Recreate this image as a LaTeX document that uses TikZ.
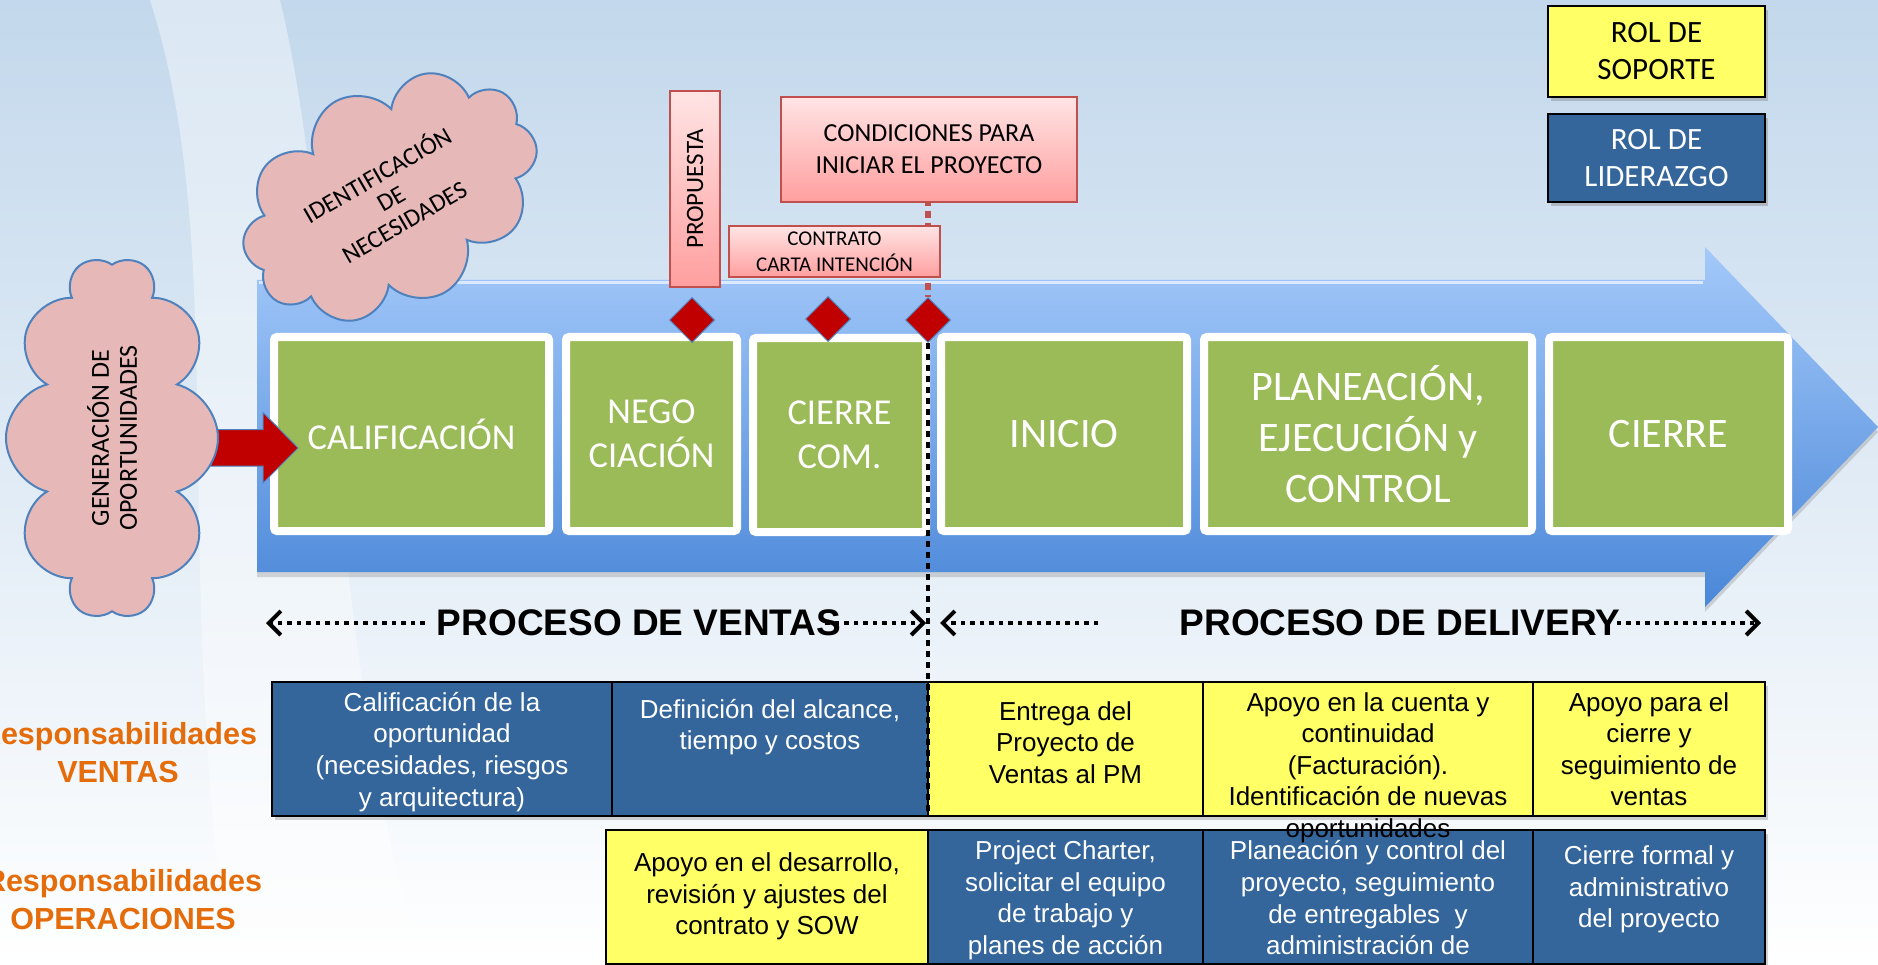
\documentclass[tikz,border=0pt]{standalone}
\usepackage{fontspec}
\setmainfont{Carlito}
\newfontfamily\arial{Liberation Sans}
\usetikzlibrary{shapes.symbols,shapes.geometric,arrows.meta,positioning,shadows}

\definecolor{cielo}{HTML}{C3D8EC}
\definecolor{flechaarriba}{HTML}{A4C9FA}
\definecolor{flechaabajo}{HTML}{4A87D8}
\definecolor{verde}{HTML}{9BBB59}
\definecolor{azulcelda}{HTML}{34659B}
\definecolor{amarillo}{HTML}{FFFF66}
\definecolor{rojo}{HTML}{C00000}
\definecolor{rosa}{HTML}{E6B9B8}
\definecolor{rosaclaro}{HTML}{FFE4E4}
\definecolor{rosaoscuro}{HTML}{FF9F9F}
\definecolor{borde}{HTML}{4F81BD}
\definecolor{rojoborde}{HTML}{C0504D}
\definecolor{naranja}{HTML}{E46C0A}

\begin{document}
\begin{tikzpicture}[x=1pt, y=-1pt,
    etapa/.style={draw=white, line width=8pt, fill=verde, rounded corners=3pt, minimum height=194pt, inner sep=0pt, text=white, align=center, font=\fontsize{36.5pt}{44pt}\selectfont},
    etapa grande/.style={etapa, font=\fontsize{42pt}{51pt}\selectfont},
    nube/.style={cloud, cloud puffs=10, cloud ignores aspect, draw=borde, line width=2pt, fill=rosa, align=center, inner sep=0pt},
    hito/.style={diamond, fill=rojo, draw=borde, line width=1pt, minimum width=45pt, minimum height=45pt, inner sep=0pt},
    aviso/.style={draw=rojoborde, line width=2pt, top color=rosaclaro, bottom color=rosaoscuro, inner sep=0pt, align=center},
    rol/.style={draw=black, line width=2.5pt, minimum width=217pt, inner sep=0pt, align=center, font=\fontsize{31pt}{37pt}\selectfont, drop shadow={opacity=0.4, shadow xshift=3pt, shadow yshift=-4pt}},
    proceso/.style={inner sep=0pt, font=\arial\bfseries\fontsize{37pt}{40pt}\selectfont},
    punto/.style={line width=4.5pt, dash pattern=on 4.5pt off 5pt, -{Straight Barb[length=12pt, width=24pt, line width=4pt]}},
    resp/.style={inner sep=0pt, align=center, text=naranja, font=\arial\bfseries\fontsize{30.5pt}{38pt}\selectfont},
    celda/.style={draw=black, line width=2pt, minimum height=134pt, inner sep=0pt, drop shadow={opacity=0.35, shadow xshift=3pt, shadow yshift=-4pt}},
    txtcelda/.style={inner sep=0pt, align=center, font=\arial\fontsize{26pt}{31.6pt}\selectfont},
    punteado/.style={line width=4pt, dash pattern=on 6pt off 5pt}]

    \useasboundingbox (0,0) rectangle (1878,965);

    %fondo
    \shade[top color=cielo, middle color=cielo!25!white, bottom color=white] (0,0) rectangle (1878,965);
    \fill[white, opacity=0.4] (150,0) .. controls (230,250) and (170,550) .. (230,965) -- (420,965) .. controls (320,600) and (340,250) .. (280,0) -- cycle;

    %flecha
    \shade[top color=flechaarriba, bottom color=flechaabajo, drop shadow={opacity=0.3, shadow xshift=0pt, shadow yshift=-5pt}] (257,280) -- (1705,280) -- (1705,247) -- (1878,427) -- (1705,607) -- (1705,572) -- (257,572) -- cycle;
    \draw[white!60!flechaarriba, line width=3pt] (259,283) -- (1703,283);

    %etapas
    \node[etapa, minimum width=275pt] (calif) at (411.5,434) {CALIFICACIÓN};
    \node[etapa, minimum width=171pt] (nego) at (651.5,434) {NEGO\\CIACIÓN};
    \node[etapa, minimum width=173pt] (cierrecom) at (839.5,435) {CIERRE\\COM.};
    \node[etapa grande, minimum width=246pt] (inicio) at (1064,434) {INICIO};
    \node[etapa grande, minimum width=328pt] (plan) at (1368,434) {PLANEACIÓN,\\EJECUCIÓN y\\CONTROL};
    \node[etapa grande, minimum width=239pt] (cierre) at (1668.5,434) {CIERRE};

    %flecha roja
    \coordinate (salida) at (205,448);
    \coordinate (entrada) at (298,448);
    \fill[rojo, draw=borde, line width=1pt] (salida) ++(0,-18.5) -- ++(58,0) -- ++(0,-17) -- (entrada) -- ++(-35,35) -- ++(0,-17) -- ++(-58,0) -- cycle;

    %nubes
    \node[nube, rotate=90, minimum width=362pt, minimum height=212pt, font=\fontsize{26pt}{28pt}\selectfont] (gen) at (112,438) {GENERACIÓN DE\\OPORTUNIDADES};
    \node[nube, rotate=30, minimum width=315pt, minimum height=220pt, font=\fontsize{25pt}{27pt}\selectfont] (ident) at (390,197) {IDENTIFICACIÓN\\DE\\NECESIDADES};

    %hitos
    \node[hito] (hito1) at (692,320) {};
    \node[hito] (hito2) at (828,319) {};
    \node[hito] (hito3) at (928,320) {};

    %documentos
    \node[aviso, minimum width=296pt, minimum height=105pt, font=\fontsize{26pt}{32pt}\selectfont] (cond) at (929,149.5) {CONDICIONES PARA\\INICIAR EL PROYECTO};
    \draw[rojoborde, line width=6pt, dash pattern=on 7pt off 5pt, dash phase=-8pt] (cond.south -| hito3) -- (hito3.north);
    \node[aviso, minimum width=211pt, minimum height=51pt, font=\fontsize{21pt}{26pt}\selectfont] (contrato) at (834.5,251.5) {CONTRATO\\CARTA INTENCIÓN};
    \node[aviso, rotate=90, minimum width=196pt, minimum height=50pt, font=\fontsize{25pt}{30pt}\selectfont] (propuesta) at (695,189) {PROPUESTA};

    %roles
    \node[rol, fill=amarillo, minimum height=91pt] (soporte) at (1656.5,51.5) {ROL DE\\SOPORTE};
    \node[rol, fill=azulcelda, text=white, minimum height=88pt] (liderazgo) at (1656.5,158) {ROL DE\\LIDERAZGO};

    %procesos
    \node[proceso] (ventas) at (639,623) {PROCESO DE VENTAS};
    \node[proceso] (delivery) at (1400,623) {PROCESO DE DELIVERY};
    \coordinate (ventasini) at (266,623);
    \coordinate (ventasfin) at (926,623);
    \coordinate (deliveryini) at (940,623);
    \coordinate (deliveryfin) at (1761,623);
    \draw[punto] ([xshift=-12pt]ventas.west) -- (ventasini);
    \draw[punto] ([xshift=-16pt]ventas.east) -- (ventasfin);
    \draw[punto] ([xshift=-81pt]delivery.west) -- (deliveryini);
    \draw[punto] ([xshift=-4pt]delivery.east) -- (deliveryfin);

    \node[resp] (respventas) at (118,753) {Responsabilidades\\VENTAS};
    \node[resp] (respoper) at (123,900) {Responsabilidades\\OPERACIONES};

    %tabla
    \node[celda, fill=azulcelda, minimum width=340pt] (v1) at (442,749) {};
    \node[celda, fill=azulcelda, minimum width=316pt] (v2) at (770,749) {};
    \node[celda, fill=amarillo, minimum width=275pt] (v3) at (1065.5,749) {};
    \node[celda, fill=amarillo, minimum width=330pt] (v4) at (1368,749) {};
    \node[celda, fill=amarillo, minimum width=232pt] (v5) at (1649,749) {};

    \node[celda, fill=amarillo, minimum width=322pt] (o1) at (767,896.5) {};
    \node[celda, fill=azulcelda, minimum width=275pt] (o2) at (1065.5,896.5) {};
    \node[celda, fill=azulcelda, minimum width=330pt] (o3) at (1368,896.5) {};
    \node[celda, fill=azulcelda, minimum width=232pt] (o4) at (1649,896.5) {};

    \node[txtcelda, text=white, below=11pt of v1.north] (tv1) {Calificación de la\\oportunidad\\(necesidades, riesgos\\y arquitectura)};
    \node[txtcelda, text=white, below=18pt of v2.north] (tv2) {Definición del alcance,\\tiempo y costos};
    \node[txtcelda, below=20pt of v3.north] (tv3) {Entrega del\\Proyecto de\\Ventas al PM};
    \node[txtcelda, below=11pt of v4.north] (tv4) {Apoyo en la cuenta y\\continuidad\\(Facturación).\\Identificación de nuevas\\oportunidades};
    \node[txtcelda, below=11pt of v5.north] (tv5) {Apoyo para el\\cierre y\\seguimiento de\\ventas};

    \node[txtcelda, below=24pt of o1.north] (to1) {Apoyo en el desarrollo,\\revisión y ajustes del\\contrato y SOW};
    \node[txtcelda, text=white, below=12pt of o2.north] (to2) {Project Charter,\\solicitar el equipo\\de trabajo y\\planes de acción};
    \node[txtcelda, text=white, below=12pt of o3.north] (to3) {Planeación y control del\\proyecto, seguimiento\\de entregables~ y\\administración de};
    \node[txtcelda, text=white, below=17pt of o4.north] (to4) {Cierre formal y\\administrativo\\del proyecto};

    %corte
    \draw[punteado] (hito3.south) -- (hito3.south |- v3.south);

\end{tikzpicture}
\end{document}
